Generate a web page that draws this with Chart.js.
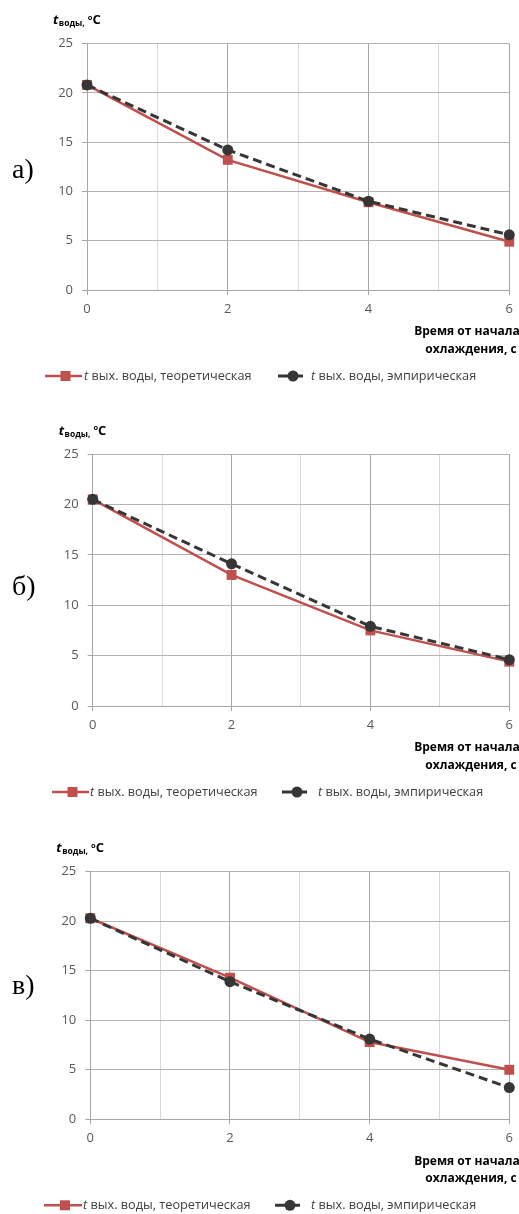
<!DOCTYPE html>
<html><head><meta charset="utf-8">
<script src="https://cdn.jsdelivr.net/npm/chart.js@4"></script>
<style>
html,body{margin:0;padding:0;background:#fff;}
body{width:519px;height:1214px;position:relative;overflow:hidden;}
canvas{position:absolute;left:0;}
</style></head><body>
<canvas id="cA" width="519" height="405" style="top:0px;width:519px;height:405px"></canvas>
<canvas id="cB" width="519" height="405" style="top:405px;width:519px;height:405px"></canvas>
<canvas id="cV" width="519" height="404" style="top:810px;width:519px;height:404px"></canvas>
<script>
// ---- data ----
const timeSec = [0, 2, 4, 6];
const theoA = [20.8, 13.2, 8.9, 4.9];
const empA  = [20.8, 14.2, 9.0, 5.6];
const theoB = [20.5, 13.0, 7.5, 4.4];
const empB  = [20.5, 14.1, 7.9, 4.6];
const theoV = [20.3, 14.3, 7.8, 5.0];
const empV  = [20.3, 13.9, 8.1, 3.2];
const xLabelTicks = [0, 2, 4, 6];
const yTickValues = [0, 5, 10, 15, 20, 25];
const seriesRest = [' вых. воды, теоретическая', ' вых. воды, эмпирическая'];
const seriesLabels = seriesRest.map(s => 't' + s);
const xTitleLines = ['Время от начала', 'охлаждения, с'];
const panelLetters = ['а)', 'б)', 'в)'];

const RED = '#c0504d', DARK = '#363636';

// ---- layout ----
const panels = [
  {id:'cA', H:405, top:43.5, bottom:290, left:87, right:512, letterY:178, theo:theoA, emp:empA, letter:panelLetters[0],
   lg:{l1:[45,82], t1:84, l2:[278,308], t2:311}},
  {id:'cB', H:405, top:49, bottom:301, left:92.7, right:510.7, letterY:190, theo:theoB, emp:empB, letter:panelLetters[1],
   lg:{l1:[52,89], t1:90, l2:[282,312], t2:318}},
  {id:'cV', H:404, top:61.7, bottom:309.3, left:90.3, right:512.3, letterY:184, theo:theoV, emp:empV, letter:panelLetters[2],
   lg:{l1:[44,82], t1:83, l2:[275,305], t2:311}}
];

const decor = {
  id: 'decor',
  afterDraw(chart, args, o) {
    const ctx = chart.ctx, a = chart.chartArea;
    ctx.save();
    ctx.fillStyle = '#000';
    ctx.textAlign = 'left';
    ctx.textBaseline = 'alphabetic';
    // panel letter
    ctx.font = '28px "Liberation Serif"';
    ctx.fillText(o.letter, 12, o.letterY);
    // y title
    let x = a.left - 34; const yb = a.top - 19.5;
    ctx.font = 'italic bold 13px "Open Sans"';
    ctx.fillText('t', x, yb); x += ctx.measureText('t').width + 0.5;
    ctx.font = 'bold 8.5px "Open Sans"';
    ctx.fillText('воды,', x, yb + 2); x += ctx.measureText('воды,').width + 3;
    ctx.font = 'bold 7.5px "Open Sans"';
    ctx.fillText('o', x, yb - 4.5); x += ctx.measureText('o').width;
    ctx.font = 'bold 13px "Open Sans"';
    ctx.fillText('C', x, yb);
    // x title
    ctx.font = 'bold 12px "Open Sans"';
    ctx.textAlign = 'center';
    ctx.textBaseline = 'middle';
    ctx.fillText(xTitleLines[0], 467, a.bottom + 42);
    ctx.fillText(xTitleLines[1], 471, a.bottom + 59.5);
    // legend
    const ly = a.bottom + 86;
    const lg = o.lg;
    ctx.lineCap = 'butt';
    // item 1
    ctx.strokeStyle = RED; ctx.lineWidth = 2.5; ctx.setLineDash([]);
    ctx.beginPath(); ctx.moveTo(lg.l1[0], ly); ctx.lineTo(lg.l1[1], ly); ctx.stroke();
    const c1 = (lg.l1[0] + lg.l1[1]) / 2 + 2;
    ctx.fillStyle = RED; ctx.fillRect(c1 - 5, ly - 5, 10, 10);
    // item 2
    ctx.strokeStyle = DARK; ctx.lineWidth = 3; ctx.setLineDash([10, 5]);
    ctx.beginPath(); ctx.moveTo(lg.l2[0], ly); ctx.lineTo(lg.l2[1], ly); ctx.stroke();
    ctx.setLineDash([]);
    const c2 = (lg.l2[0] + lg.l2[1]) / 2;
    ctx.fillStyle = DARK; ctx.beginPath(); ctx.arc(c2, ly, 5.5, 0, Math.PI * 2); ctx.fill();
    // texts
    ctx.textAlign = 'left'; ctx.textBaseline = 'middle'; ctx.fillStyle = '#404040';
    [[lg.t1, 0], [lg.t2, 1]].forEach(([tx, i]) => {
      ctx.font = 'italic 12.7px "Open Sans"';
      ctx.fillText('t', tx, ly);
      const w = ctx.measureText('t').width;
      ctx.font = '12.7px "Open Sans"';
      ctx.fillText(seriesRest[i], tx + w, ly);
    });
    ctx.restore();
  }
};

const tickFont = {family: 'Open Sans', size: 13};

panels.forEach(p => {
  new Chart(document.getElementById(p.id), {
    type: 'line',
    data: {
      datasets: [
        {label: seriesLabels[1], data: timeSec.map((t, i) => ({x: t, y: p.emp[i]})),
         borderColor: DARK, backgroundColor: DARK, borderWidth: 3, borderDash: [9, 5],
         pointStyle: 'circle', pointRadius: 5.5, pointBackgroundColor: DARK, pointBorderColor: DARK, pointBorderWidth: 0,
         order: 0, clip: false, tension: 0},
        {label: seriesLabels[0], data: timeSec.map((t, i) => ({x: t, y: p.theo[i]})),
         borderColor: RED, backgroundColor: RED, borderWidth: 2.5,
         pointStyle: 'rect', pointRadius: 7, pointBackgroundColor: RED, pointBorderColor: RED, pointBorderWidth: 0,
         order: 1, clip: false, tension: 0}
      ]
    },
    options: {
      responsive: false, animation: false, devicePixelRatio: 1,
      layout: {padding: {top: p.top, right: 519 - p.right, left: 0, bottom: 0}},
      plugins: {legend: {display: false}, tooltip: {enabled: false}, decor: p},
      scales: {
        x: {
          type: 'linear', min: 0, max: 6,
          ticks: {stepSize: 1, autoSkip: false, maxRotation: 0, color: '#595959', font: tickFont, padding: 6,
            callback: v => xLabelTicks.includes(v) ? String(v) : ''},
          grid: {lineWidth: 1, tickLength: 5,
            color: c => (c.tick && c.tick.value % 2 === 0) ? '#a6a6a6' : '#d9d9d9',
            tickColor: c => (c.tick && c.tick.value % 2 === 0) ? '#a6a6a6' : 'rgba(0,0,0,0)'},
          border: {color: '#a6a6a6'},
          afterFit: s => { s.height = p.H - p.bottom; }
        },
        y: {
          type: 'linear', min: 0, max: 25,
          afterBuildTicks: s => { s.ticks = yTickValues.map(v => ({value: v})); },
          ticks: {color: '#595959', font: tickFont, padding: 9},
          grid: {lineWidth: 1, tickLength: 5, color: '#b3b3b3', tickColor: '#a6a6a6'},
          border: {color: '#a6a6a6'},
          afterFit: s => { s.width = p.left; }
        }
      }
    },
    plugins: [decor]
  });
});
</script>
</body></html>
